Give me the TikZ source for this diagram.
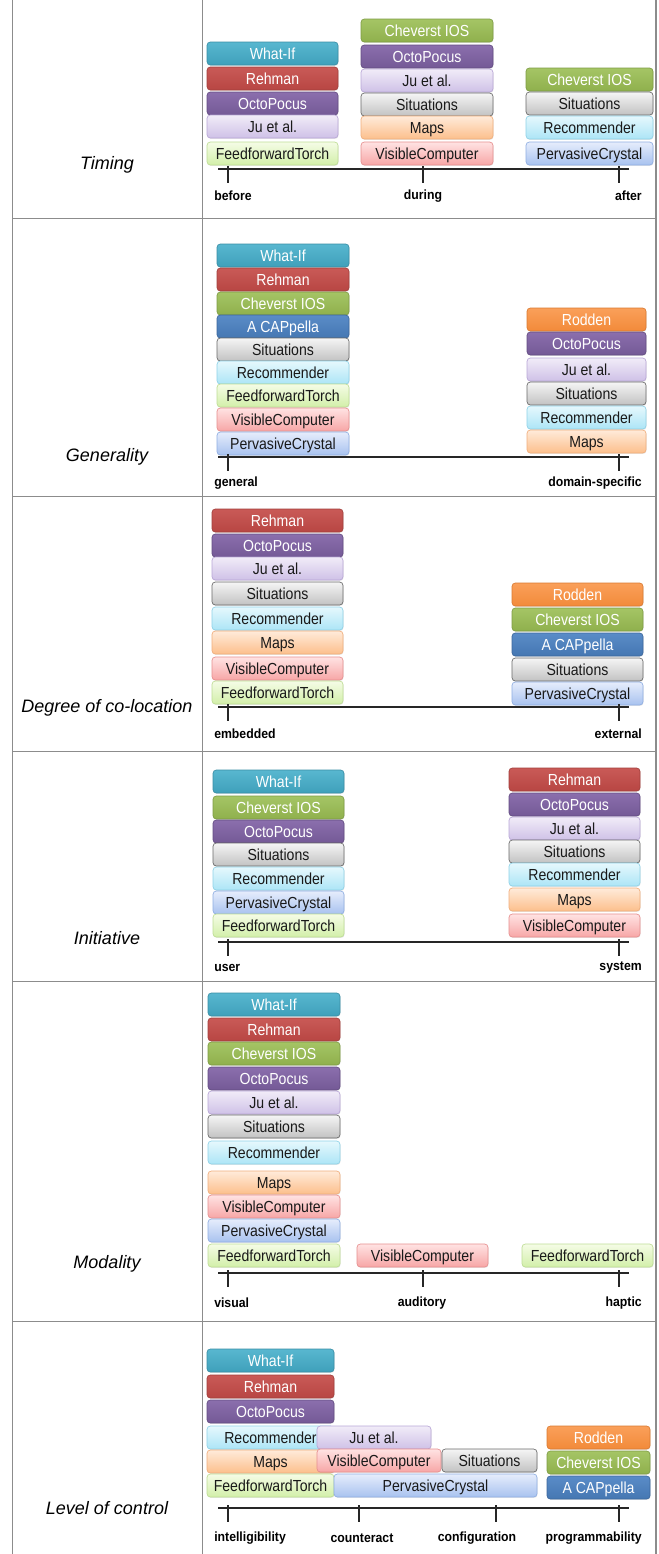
\documentclass[tikz,border=0pt]{standalone}
\usepackage{fontspec}
\setmainfont{Liberation Sans}
\newfontfamily\paperfont[FakeStretch=0.88]{Liberation Sans}
\newfontfamily\endfont[FakeStretch=0.92]{Liberation Sans}
\usepackage{xcolor}
\usetikzlibrary{shadows}
% colours of the papers: top, bottom, edge
\definecolor{whatifT}{HTML}{58B7D0}\definecolor{whatifB}{HTML}{3FA0BA}\definecolor{whatifL}{HTML}{3A8EA5}
\definecolor{rehmanT}{HTML}{C95A57}\definecolor{rehmanB}{HTML}{B84643}\definecolor{rehmanL}{HTML}{A23F3C}
\definecolor{octoT}{HTML}{8B6FAD}\definecolor{octoB}{HTML}{745996}\definecolor{octoL}{HTML}{634C82}
\definecolor{chevT}{HTML}{A5C565}\definecolor{chevB}{HTML}{8FB04D}\definecolor{chevL}{HTML}{7E9C44}
\definecolor{acapT}{HTML}{5A8CC8}\definecolor{acapB}{HTML}{4577B2}\definecolor{acapL}{HTML}{3C679C}
\definecolor{roddenT}{HTML}{FAA05A}\definecolor{roddenB}{HTML}{F28A3A}\definecolor{roddenL}{HTML}{DA7A31}
\definecolor{juT}{HTML}{F1ECF8}\definecolor{juB}{HTML}{CFC1E7}\definecolor{juL}{HTML}{B8A6D6}
\definecolor{situT}{HTML}{F5F5F5}\definecolor{situB}{HTML}{C2C2C2}\definecolor{situL}{HTML}{6A6A6A}
\definecolor{recT}{HTML}{E6F8FD}\definecolor{recB}{HTML}{ACE5F6}\definecolor{recL}{HTML}{8FD2E7}
\definecolor{ffT}{HTML}{F5FCE6}\definecolor{ffB}{HTML}{D2EFA9}\definecolor{ffL}{HTML}{BEDD95}
\definecolor{vcT}{HTML}{FFE3E3}\definecolor{vcB}{HTML}{F7A6A6}\definecolor{vcL}{HTML}{E68F8F}
\definecolor{mapsT}{HTML}{FFEBDA}\definecolor{mapsB}{HTML}{FCBF8C}\definecolor{mapsL}{HTML}{F0AE7C}
\definecolor{pervT}{HTML}{E6EDFC}\definecolor{pervB}{HTML}{A8C2EF}\definecolor{pervL}{HTML}{8FAEE2}
\definecolor{gridline}{HTML}{8C8C8C}
\newcommand\paper[6]{% name, style, left x, top y, width, text
  \node[paper, #2, minimum width={#5*0.75pt}] (#1) at ({#3+#5/2},{#4+11.5}) {#6};
}
\newcommand\timeline[3]{% name, y of the axis, x of the ticks
  \coordinate (#1a) at (218,#2); % left end
  \coordinate (#1b) at (629,#2); % right end
  \draw[axisline] (#1a) -- (#1b);
  \foreach \tx in {#3}{
    \draw[axisline] (\tx,#2-3) -- (\tx,#2+14);
  }
}
\begin{document}
\begin{tikzpicture}[x=0.75pt,y=-0.75pt,
    paper/.style={rounded corners=2.5pt, inner sep=0pt, minimum height=17.25pt, line width=0.5pt,
      text height=9pt, text depth=0pt,
      font=\paperfont\fontsize{12}{13}\selectfont, text=black!90,
      drop shadow={opacity=0.18, shadow xshift=0.4pt, shadow yshift=-0.7pt}},
    whatif/.style={top color=whatifT, bottom color=whatifB, draw=whatifL, text=white},
    rehman/.style={top color=rehmanT, bottom color=rehmanB, draw=rehmanL, text=white},
    octo/.style={top color=octoT, bottom color=octoB, draw=octoL, text=white},
    cheverst/.style={top color=chevT, bottom color=chevB, draw=chevL, text=white},
    acappella/.style={top color=acapT, bottom color=acapB, draw=acapL, text=white},
    rodden/.style={top color=roddenT, bottom color=roddenB, draw=roddenL, text=white},
    juetal/.style={top color=juT, bottom color=juB, draw=juL},
    situations/.style={top color=situT, bottom color=situB, draw=situL},
    recomm/.style={top color=recT, bottom color=recB, draw=recL},
    feedfwd/.style={top color=ffT, bottom color=ffB, draw=ffL},
    viscomp/.style={top color=vcT, bottom color=vcB, draw=vcL},
    mapsc/.style={top color=mapsT, bottom color=mapsB, draw=mapsL},
    pervasive/.style={top color=pervT, bottom color=pervB, draw=pervL},
    axisline/.style={line width=1pt, black!85},
    endlabel/.style={font=\endfont\fontsize{10}{11}\selectfont\bfseries, inner sep=0pt},
    dimlabel/.style={font=\fontsize{13.5}{15}\selectfont\itshape}]
  \useasboundingbox (0,0) rectangle (659,1554);
  % table
  \draw[gridline, line width=0.8pt] (12.7,0) -- (12.7,1554) (202.7,0) -- (202.7,1554) (656,0) -- (656,1554);
  \foreach \ry in {218.5,496.8,751.5,981.3,1321.5}
    \draw[gridline, line width=0.8pt] (12.7,\ry) -- (656,\ry);

  % Timing
  \node[dimlabel] (timing) at (107,165) {Timing};
  \paper{t1}{whatif}{207}{42}{131}{What-If}
  \paper{t2}{rehman}{207}{67}{131}{Rehman}
  \paper{t3}{octo}{207}{92}{131}{OctoPocus}
  \paper{t4}{juetal}{207}{115}{131}{Ju et al.}
  \paper{t5}{feedfwd}{207}{142}{131}{FeedforwardTorch}
  \paper{t6}{cheverst}{361}{19}{132}{Cheverst IOS}
  \paper{t7}{octo}{361}{45}{132}{OctoPocus}
  \paper{t8}{juetal}{361}{69}{132}{Ju et al.}
  \paper{t9}{situations}{361}{93}{132}{Situations}
  \paper{t10}{mapsc}{361}{116}{132}{Maps}
  \paper{t11}{viscomp}{361}{142}{132}{VisibleComputer}
  \paper{t12}{cheverst}{526}{68}{127}{Cheverst IOS}
  \paper{t13}{situations}{526}{92}{127}{Situations}
  \paper{t14}{recomm}{526}{116}{127}{Recommender}
  \paper{t15}{pervasive}{526}{142}{127}{PervasiveCrystal}
  \timeline{tax}{169}{228,423,619}
  \node[endlabel, anchor=west] (before) at (214,196) {before};
  \node[endlabel] (during) at (423,196) {during};
  \node[endlabel, anchor=east] (after) at (642,196) {after};

  % Generality
  \node[dimlabel] (generality) at (107,457) {Generality};
  \paper{g1}{whatif}{217}{244}{132}{What-If}
  \paper{g2}{rehman}{217}{268}{132}{Rehman}
  \paper{g3}{cheverst}{217}{292}{132}{Cheverst IOS}
  \paper{g4}{acappella}{217}{315}{132}{A CAPpella}
  \paper{g5}{situations}{217}{338}{132}{Situations}
  \paper{g6}{recomm}{217}{361}{132}{Recommender}
  \paper{g7}{feedfwd}{217}{384}{132}{FeedforwardTorch}
  \paper{g8}{viscomp}{217}{408}{132}{VisibleComputer}
  \paper{g9}{pervasive}{217}{432}{132}{PervasiveCrystal}
  \paper{g10}{rodden}{527}{308}{119}{Rodden}
  \paper{g11}{octo}{527}{332}{119}{OctoPocus}
  \paper{g12}{juetal}{527}{358}{119}{Ju et al.}
  \paper{g13}{situations}{527}{382}{119}{Situations}
  \paper{g14}{recomm}{527}{406}{119}{Recommender}
  \paper{g15}{mapsc}{527}{430}{119}{Maps}
  \timeline{gax}{457}{228,619}
  \node[endlabel, anchor=west] (general) at (214,483) {general};
  \node[endlabel, anchor=east] (domain) at (642,483) {domain-specific};

  % Degree of co-location
  \node[dimlabel] (colocation) at (107,708) {Degree of co-location};
  \paper{d1}{rehman}{212}{509}{131}{Rehman}
  \paper{d2}{octo}{212}{534}{131}{OctoPocus}
  \paper{d3}{juetal}{212}{557}{131}{Ju et al.}
  \paper{d4}{situations}{212}{582}{131}{Situations}
  \paper{d5}{recomm}{212}{607}{131}{Recommender}
  \paper{d6}{mapsc}{212}{631}{131}{Maps}
  \paper{d7}{viscomp}{212}{657}{131}{VisibleComputer}
  \paper{d8}{feedfwd}{212}{681}{131}{FeedforwardTorch}
  \paper{d9}{rodden}{512}{583}{131}{Rodden}
  \paper{d10}{cheverst}{512}{608}{131}{Cheverst IOS}
  \paper{d11}{acappella}{512}{633}{131}{A CAPpella}
  \paper{d12}{situations}{512}{658}{131}{Situations}
  \paper{d13}{pervasive}{512}{682}{131}{PervasiveCrystal}
  \timeline{dax}{707}{228,619}
  \node[endlabel, anchor=west] (embedded) at (214,734) {embedded};
  \node[endlabel, anchor=east] (external) at (642,734) {external};

  % Initiative
  \node[dimlabel] (initiative) at (107,938) {Initiative};
  \paper{i1}{whatif}{213}{770}{131}{What-If}
  \paper{i2}{cheverst}{213}{796}{131}{Cheverst IOS}
  \paper{i3}{octo}{213}{820}{131}{OctoPocus}
  \paper{i4}{situations}{213}{843}{131}{Situations}
  \paper{i5}{recomm}{213}{867}{131}{Recommender}
  \paper{i6}{pervasive}{213}{891}{131}{PervasiveCrystal}
  \paper{i7}{feedfwd}{213}{914}{131}{FeedforwardTorch}
  \paper{i8}{rehman}{509}{768}{131}{Rehman}
  \paper{i9}{octo}{509}{793}{131}{OctoPocus}
  \paper{i10}{juetal}{509}{817}{131}{Ju et al.}
  \paper{i11}{situations}{509}{840}{131}{Situations}
  \paper{i12}{recomm}{509}{863}{131}{Recommender}
  \paper{i13}{mapsc}{509}{888}{131}{Maps}
  \paper{i14}{viscomp}{509}{914}{131}{VisibleComputer}
  \timeline{iax}{942}{228,619}
  \node[endlabel, anchor=west] (user) at (214,968) {user};
  \node[endlabel, anchor=east] (system) at (642,968) {system};

  % Modality
  \node[dimlabel] (modality) at (107,1264) {Modality};
  \paper{m1}{whatif}{208}{993}{132}{What-If}
  \paper{m2}{rehman}{208}{1018}{132}{Rehman}
  \paper{m3}{cheverst}{208}{1042}{132}{Cheverst IOS}
  \paper{m4}{octo}{208}{1067}{132}{OctoPocus}
  \paper{m5}{juetal}{208}{1091}{132}{Ju et al.}
  \paper{m6}{situations}{208}{1115}{132}{Situations}
  \paper{m7}{recomm}{208}{1141}{132}{Recommender}
  \paper{m8}{mapsc}{208}{1171}{132}{Maps}
  \paper{m9}{viscomp}{208}{1195}{132}{VisibleComputer}
  \paper{m10}{pervasive}{208}{1219}{132}{PervasiveCrystal}
  \paper{m11}{feedfwd}{208}{1244}{132}{FeedforwardTorch}
  \paper{m12}{viscomp}{357}{1244}{131}{VisibleComputer}
  \paper{m13}{feedfwd}{522}{1244}{131}{FeedforwardTorch}
  \timeline{max}{1273}{228,423,619}
  \node[endlabel, anchor=west] (visual) at (214,1303) {visual};
  \node[endlabel] (auditory) at (422,1303) {auditory};
  \node[endlabel, anchor=east] (haptic) at (642,1303) {haptic};

  % Level of control
  \node[dimlabel] (control) at (107,1508) {Level of control};
  \paper{l1}{whatif}{207}{1349}{127}{What-If}
  \paper{l2}{rehman}{207}{1375}{127}{Rehman}
  \paper{l3}{octo}{207}{1400}{127}{OctoPocus}
  \paper{l4}{recomm}{207}{1426}{127}{Recommender}
  \paper{l5}{mapsc}{207}{1450}{127}{Maps}
  \paper{l6}{feedfwd}{207}{1474}{127}{FeedforwardTorch}
  \paper{l7}{juetal}{317}{1426}{114}{Ju et al.}
  \paper{l8}{viscomp}{317}{1449}{124}{VisibleComputer}
  \paper{l9}{situations}{442}{1449}{95}{Situations}
  \paper{l10}{pervasive}{334}{1474}{203}{PervasiveCrystal}
  \paper{l11}{rodden}{547}{1426}{103}{Rodden}
  \paper{l12}{cheverst}{547}{1451}{103}{Cheverst IOS}
  \paper{l13}{acappella}{547}{1476}{103}{A CAPpella}
  \timeline{lax}{1508}{228,359,496,619}
  \node[endlabel, anchor=west] (intelligibility) at (214,1538) {intelligibility};
  \node[endlabel] (counteract) at (362,1538) {counteract};
  \node[endlabel] (configuration) at (477,1538) {configuration};
  \node[endlabel, anchor=east] (programmability) at (642,1538) {programmability};
\end{tikzpicture}
\end{document}
